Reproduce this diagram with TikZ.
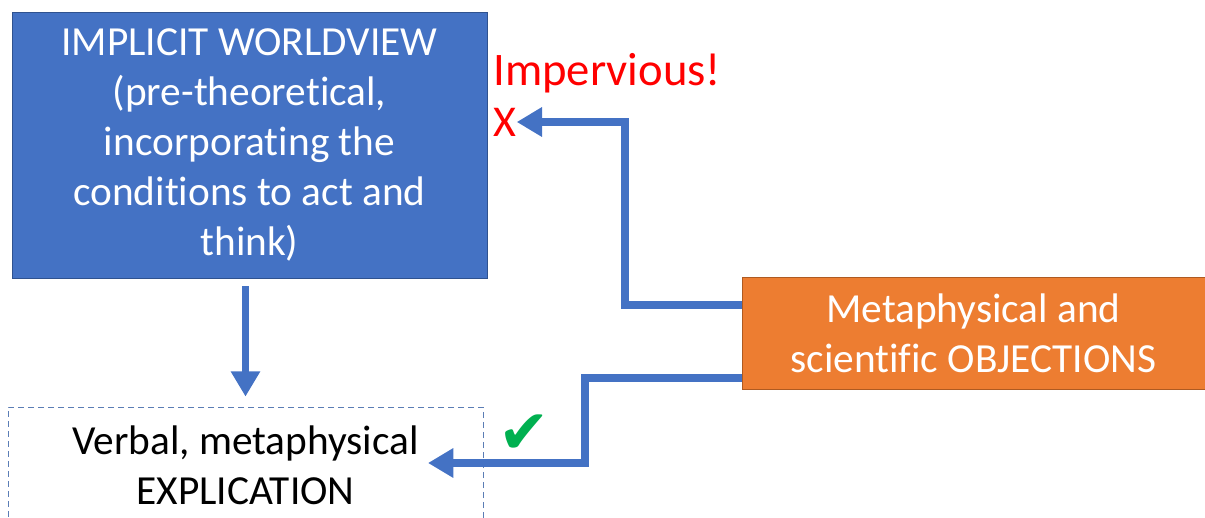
\documentclass[tikz,border=0pt]{standalone}
\usepackage{fontspec}
\setmainfont{Carlito}[Ligatures=NoCommon]
\newfontfamily\symfont{DejaVu Sans}
\usetikzlibrary{arrows.meta, positioning, calc}
\definecolor{boxblue}      {RGB}{68, 114, 196}
\definecolor{boxblueedge}  {RGB}{47,  82,  143}
\definecolor{boxorange}    {RGB}{237, 125, 49}
\definecolor{boxorangeedge}{RGB}{174, 90,  33}
\definecolor{okgreen}      {RGB}{0,   176, 80}
\definecolor{dashblue}     {RGB}{91,  125, 181}

\begin{document}
\begin{tikzpicture}[x=0.75pt,y=-0.75pt,
	box/.style={rectangle, inner sep=0pt, align=center, font=\fontsize{31}{37.5}\selectfont},
	flow/.style={line width=5.5pt, draw=boxblue, -{Triangle[length=19pt,width=21pt]}}]
	\clip (0,0) rectangle (1205,517);
	% boxes
	\node[box, fill=boxblue, draw=boxblueedge, text=white, minimum width=356.25pt, minimum height=199.5pt] (wv) at (249.5,145)
		{IMPLICIT WORLDVIEW\\(pre-theoretical,\\incorporating the\\conditions to act and\\think)};
	\node[box, fill=boxorange, draw=boxorangeedge, text=white, minimum width=347.25pt, minimum height=84pt] (obj) at (973.5,333)
		{Metaphysical and\\scientific OBJECTIONS};
	\node[box, draw=dashblue, line width=0.6pt, dash pattern=on 4.5pt off 3pt, minimum width=356.25pt, minimum height=87pt] (expl) at (245.5,465)
		{Verbal, metaphysical\\EXPLICATION};
	% marks
	\node[text=red, inner sep=0pt, anchor=west, font=\fontsize{35}{42}\selectfont] (imp) at (493,73) {Impervious!};
	\node[text=red, inner sep=0pt, font=\fontsize{33}{40}\selectfont] (nogo) at (505,122) {X};
	\node[text=okgreen, inner sep=0pt, font=\symfont\fontsize{46}{52}\selectfont] (ok) at (524,434) {✔};
	% connectors
	\coordinate (wvout) at ([yshift=-6pt]wv.south);
	\coordinate (explin) at (428,463);
	\draw[flow] (wvout -| expl.north) -- ([yshift=7.5pt]expl.north);
	\draw[flow] ([yshift=21pt]obj.west) -| (625,122) -- (nogo.east);
	\draw[flow] ([yshift=-33.75pt]obj.west) -| (585,463) -- (explin);
\end{tikzpicture}
\end{document}
